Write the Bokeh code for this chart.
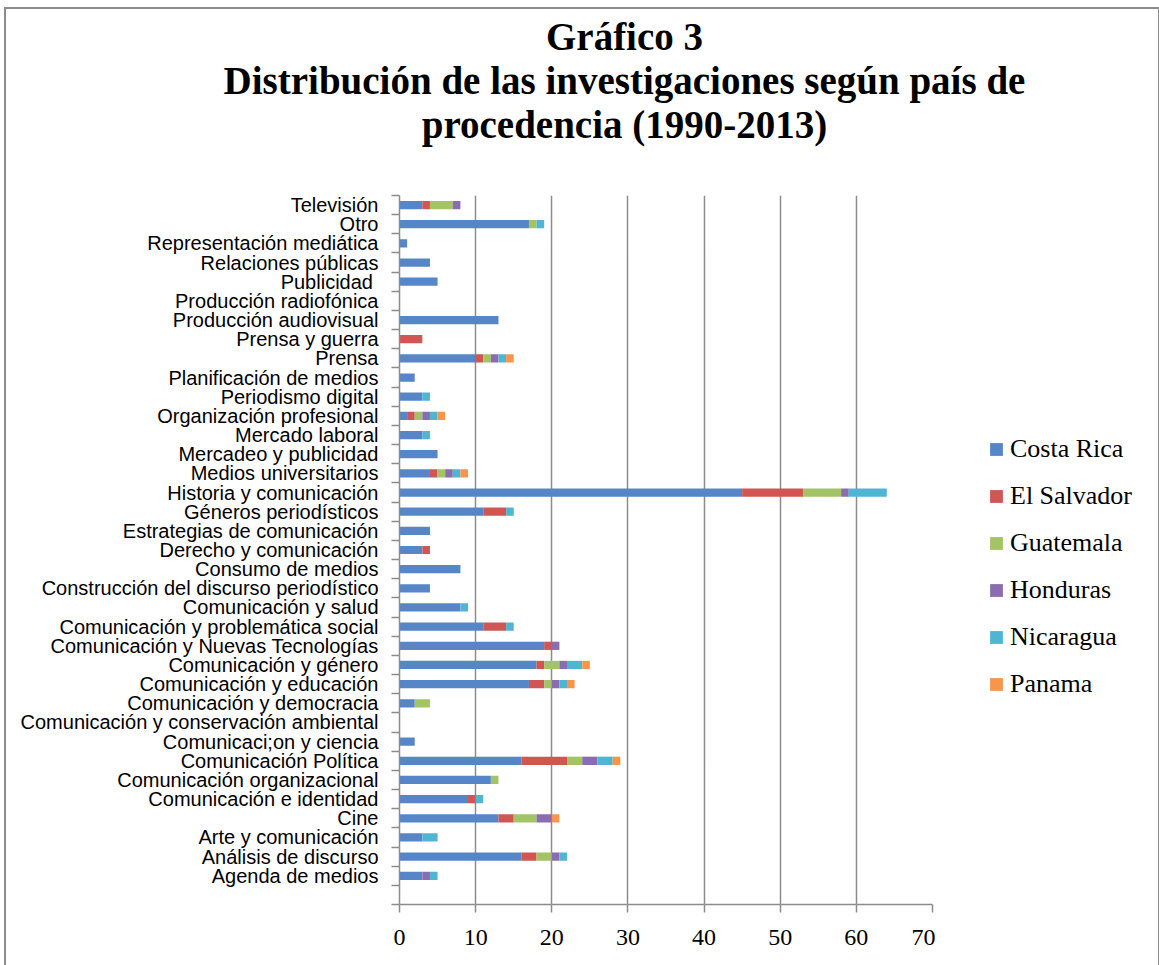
from bokeh.plotting import figure
from bokeh.layouts import column, row
from bokeh.models import (ColumnDataSource, Range1d, LinearAxis, FixedTicker,
                          Legend, LegendItem, Div)
from bokeh.embed import file_html
from bokeh.resources import INLINE

# Categories in chart order, bottom to top
categories = [
    "Agenda de medios", "Análisis de discurso", "Arte y comunicación", "Cine",
    "Comunicación e identidad", "Comunicación organizacional", "Comunicación Política",
    "Comunicaci;on y ciencia", "Comunicación y conservación ambiental",
    "Comunicación y democracia", "Comunicación y educación", "Comunicación y género",
    "Comunicación y Nuevas Tecnologías", "Comunicación y problemática social",
    "Comunicación y salud", "Construcción del discurso periodístico", "Consumo de medios",
    "Derecho y comunicación", "Estrategias de comunicación", "Géneros periodísticos",
    "Historia y comunicación", "Medios universitarios", "Mercadeo y publicidad",
    "Mercado laboral", "Organización profesional", "Periodismo digital",
    "Planificación de medios", "Prensa", "Prensa y guerra", "Producción audiovisual",
    "Producción radiofónica", "Publicidad ", "Relaciones públicas",
    "Representación mediática", "Otro", "Televisión",
]

costa_rica  = [3, 16, 3, 13, 9, 12, 16, 2, 0, 2, 17, 18, 19, 11, 8, 4, 8, 3, 4, 11, 45, 4, 5, 3, 1, 3, 2, 10, 0, 13, 0, 5, 4, 1, 17, 3]
el_salvador = [0, 2, 0, 2, 1, 0, 6, 0, 0, 0, 2, 1, 1, 3, 0, 0, 0, 1, 0, 3, 8, 1, 0, 0, 1, 0, 0, 1, 3, 0, 0, 0, 0, 0, 0, 1]
guatemala   = [0, 2, 0, 3, 0, 1, 2, 0, 0, 2, 1, 2, 0, 0, 0, 0, 0, 0, 0, 0, 5, 1, 0, 0, 1, 0, 0, 1, 0, 0, 0, 0, 0, 0, 1, 3]
honduras    = [1, 1, 0, 2, 0, 0, 2, 0, 0, 0, 1, 1, 1, 0, 0, 0, 0, 0, 0, 0, 1, 1, 0, 0, 1, 0, 0, 1, 0, 0, 0, 0, 0, 0, 0, 1]
nicaragua   = [1, 1, 2, 0, 1, 0, 2, 0, 0, 0, 1, 2, 0, 1, 1, 0, 0, 0, 0, 1, 5, 1, 0, 1, 1, 1, 0, 1, 0, 0, 0, 0, 0, 0, 1, 0]
panama      = [0, 0, 0, 1, 0, 0, 1, 0, 0, 0, 1, 1, 0, 0, 0, 0, 0, 0, 0, 0, 0, 1, 0, 0, 1, 0, 0, 1, 0, 0, 0, 0, 0, 0, 0, 0]

countries = ["Costa Rica", "El Salvador", "Guatemala", "Honduras", "Nicaragua", "Panama"]
series = [costa_rica, el_salvador, guatemala, honduras, nicaragua, panama]
colors = ["#5685C8", "#CF5653", "#A3C466", "#8A6CB0", "#4FB5D1", "#F7964B"]

x_ticks = [0, 10, 20, 30, 40, 50, 60, 70]
title_lines = ["Gráfico 3",
               "Distribución de las investigaciones según país de",
               "procedencia (1990-2013)"]

# one empty category slot below the first category (as in the original axis)
n_slots = len(categories) + 1
centers = [i + 1.5 for i in range(len(categories))]

data = {"y": centers, "cat": categories}
for name, vals in zip(countries, series):
    data[name] = vals
source = ColumnDataSource(data)

GREY = "#8c8c8c"
W = 1142
H_TITLE = 140
H_PLOT = 811
W_PLOT = 929

title_div = Div(
    text="<br>".join(title_lines),
    width=W, height=H_TITLE,
    styles={"font-family": "'Liberation Serif', serif", "font-weight": "bold",
            "font-size": "39px", "line-height": "44px", "text-align": "center",
            "color": "black", "padding-top": "1px", "padding-left": "85px",
            "box-sizing": "border-box", "background": "white",
            "white-space": "nowrap"},
)

p = figure(width=W_PLOT, height=H_PLOT,
           y_range=Range1d(0, n_slots),
           x_range=Range1d(0, 70),
           output_backend="svg", toolbar_location=None,
           y_axis_location=None,
           min_border_left=393, min_border_right=3,
           min_border_top=36, min_border_bottom=66)
p.outline_line_color = None
p.background_fill_color = "white"
p.border_fill_color = "white"

renderers = p.hbar_stack(countries, y="y", height=0.43, fill_color=colors,
                         line_color=None, source=source)

# x axis
xa = p.xaxis[0]
xa.ticker = FixedTicker(ticks=x_ticks)
xa.axis_line_color = GREY
xa.axis_line_width = 1.5
xa.major_tick_line_color = GREY
xa.major_tick_line_width = 1.5
xa.major_tick_out = 8
xa.major_tick_in = 0
xa.minor_tick_line_color = None
xa.major_label_text_font = "Liberation Serif"
xa.major_label_text_font_size = "24px"
xa.major_label_text_color = "black"
xa.major_label_standoff = 17

p.xgrid.ticker = FixedTicker(ticks=x_ticks)
p.xgrid.grid_line_color = GREY
p.xgrid.grid_line_width = 1.5
p.ygrid.grid_line_color = None

# y axis: tick marks at band boundaries (nearest the plot) + category labels
tick_axis = LinearAxis(ticker=FixedTicker(ticks=list(range(n_slots + 1))),
                       major_label_text_font_size="1px", major_label_text_color=None,
                       major_label_standoff=0,
                       major_tick_out=8, major_tick_in=0,
                       minor_tick_line_color=None,
                       axis_line_color=GREY, axis_line_width=1.5,
                       major_tick_line_color=GREY, major_tick_line_width=1.5)
label_axis = LinearAxis(ticker=FixedTicker(ticks=centers),
                        major_label_overrides={c: name for c, name in zip(centers, categories)},
                        axis_line_color=None, major_tick_line_color=None,
                        major_tick_out=0, major_tick_in=0, minor_tick_line_color=None,
                        major_label_text_font="Liberation Sans",
                        major_label_text_font_size="20px",
                        major_label_text_color="black",
                        major_label_standoff=13)
p.add_layout(tick_axis, "left")
p.add_layout(label_axis, "left")

# legend panel on the right (its own canvas, so the legend is not clipped by the bar frame)
lg = figure(width=W - W_PLOT, height=H_PLOT, x_range=Range1d(-2, -1),
            y_range=Range1d(0, n_slots), output_backend="svg", toolbar_location=None,
            x_axis_location=None, y_axis_location=None,
            min_border=0, min_border_left=0, min_border_right=0,
            min_border_top=0, min_border_bottom=0)
lg.outline_line_color = None
lg.grid.grid_line_color = None
lg.background_fill_color = "white"
lg.border_fill_color = "white"
lg_renderers = lg.hbar_stack(countries, y="y", height=0.43, fill_color=colors,
                             line_color=None, source=source)

legend = Legend(items=[LegendItem(label=c, renderers=[r]) for c, r in zip(countries, lg_renderers)],
                location=(53, 205), orientation="vertical",
                glyph_width=16, glyph_height=16, label_standoff=6,
                spacing=17, padding=0, margin=0,
                border_line_color=None, background_fill_alpha=0,
                label_text_font="Liberation Serif", label_text_font_size="26px",
                label_text_color="black", label_height=26)
lg.add_layout(legend)

layout = column(title_div, row(p, lg, spacing=0), spacing=0,
                styles={"border": "2px solid #8c8c8c", "margin-top": "7px",
                        "margin-left": "4px", "background": "white"})

open("out.html", "w").write(file_html(layout, INLINE))
